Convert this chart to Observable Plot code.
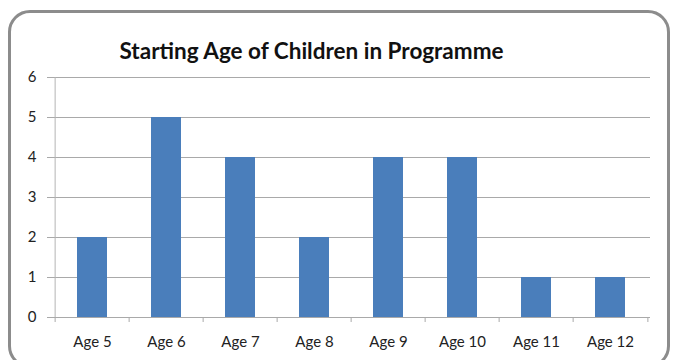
<!DOCTYPE html>
<html>
<head>
<meta charset="utf-8">
<script src="https://cdn.jsdelivr.net/npm/d3@7"></script>
<script src="https://cdn.jsdelivr.net/npm/@observablehq/plot@0.6"></script>
<style>
  html, body { margin: 0; padding: 0; background: #fff; overflow: hidden; }
  #wrap { position: relative; width: 678px; height: 360px; }
  #box {
    position: absolute; left: 8px; top: 10px; width: 656px; height: 352px;
    border: 3px solid #8c8c8c; border-radius: 22px; pointer-events: none;
  }
  #chart { position: absolute; left: 0; top: 0; }
  #chart svg { font-family: Lato, "Open Sans", sans-serif; }
</style>
</head>
<body>
<div id="wrap">
  <div id="chart"></div>
  <div id="box"></div>
</div>
<script>
const title = "Starting Age of Children in Programme";
const categories = ["Age 5", "Age 6", "Age 7", "Age 8", "Age 9", "Age 10", "Age 11", "Age 12"];
const counts = [2, 5, 4, 2, 4, 4, 1, 1];
const yTicks = [0, 1, 2, 3, 4, 5, 6];

const data = categories.map((c, i) => ({age: c, count: counts[i]}));

const W = 678, H = 360;
const mL = 52, mR = 28, mT = 77, mB = 43;
const step = (W - mL - mR) / categories.length;
const last = categories[categories.length - 1];

const chart = Plot.plot({
  width: W,
  height: H,
  marginLeft: mL,
  marginRight: mR,
  marginTop: mT,
  marginBottom: mB,
  style: {fontFamily: "Lato, 'Open Sans', sans-serif", background: "transparent"},
  x: {domain: categories, paddingInner: 0.6, paddingOuter: 0.3},
  y: {domain: [0, 6]},
  marks: [
    Plot.gridY(yTicks, {stroke: "#a9a9a9", strokeOpacity: 1}),
    // left axis line
    Plot.ruleX([categories[0]], {dx: -step / 2, y1: 0, y2: 6, stroke: "#b4b4b4"}),
    Plot.barY(data, {x: "age", y: "count", fill: "#4a7ebb"}),
    Plot.ruleY([0], {stroke: "#a9a9a9"}),
    // category boundary ticks under the baseline
    Plot.ruleX(categories, {dx: -step / 2, y1: 0, y2: 0, insetBottom: -5, stroke: "#a9a9a9"}),
    Plot.ruleX([last], {dx: step / 2, y1: 0, y2: 0, insetBottom: -5, stroke: "#a9a9a9"}),
    Plot.axisY(yTicks, {tickSize: 5, tickPadding: 11, stroke: "#a9a9a9", fill: "#222", fontSize: 15, label: null}),
    Plot.axisX({tickSize: 0, tickPadding: 19, fill: "#222", fontSize: 15, label: null}),
    Plot.text([title], {
      frameAnchor: "top-left", dx: 311 - mL, dy: -34,
      textAnchor: "middle", fontSize: 22.5, fontWeight: "bold", fill: "#111"
    })
  ]
});
document.getElementById("chart").appendChild(chart);
</script>
</body>
</html>
